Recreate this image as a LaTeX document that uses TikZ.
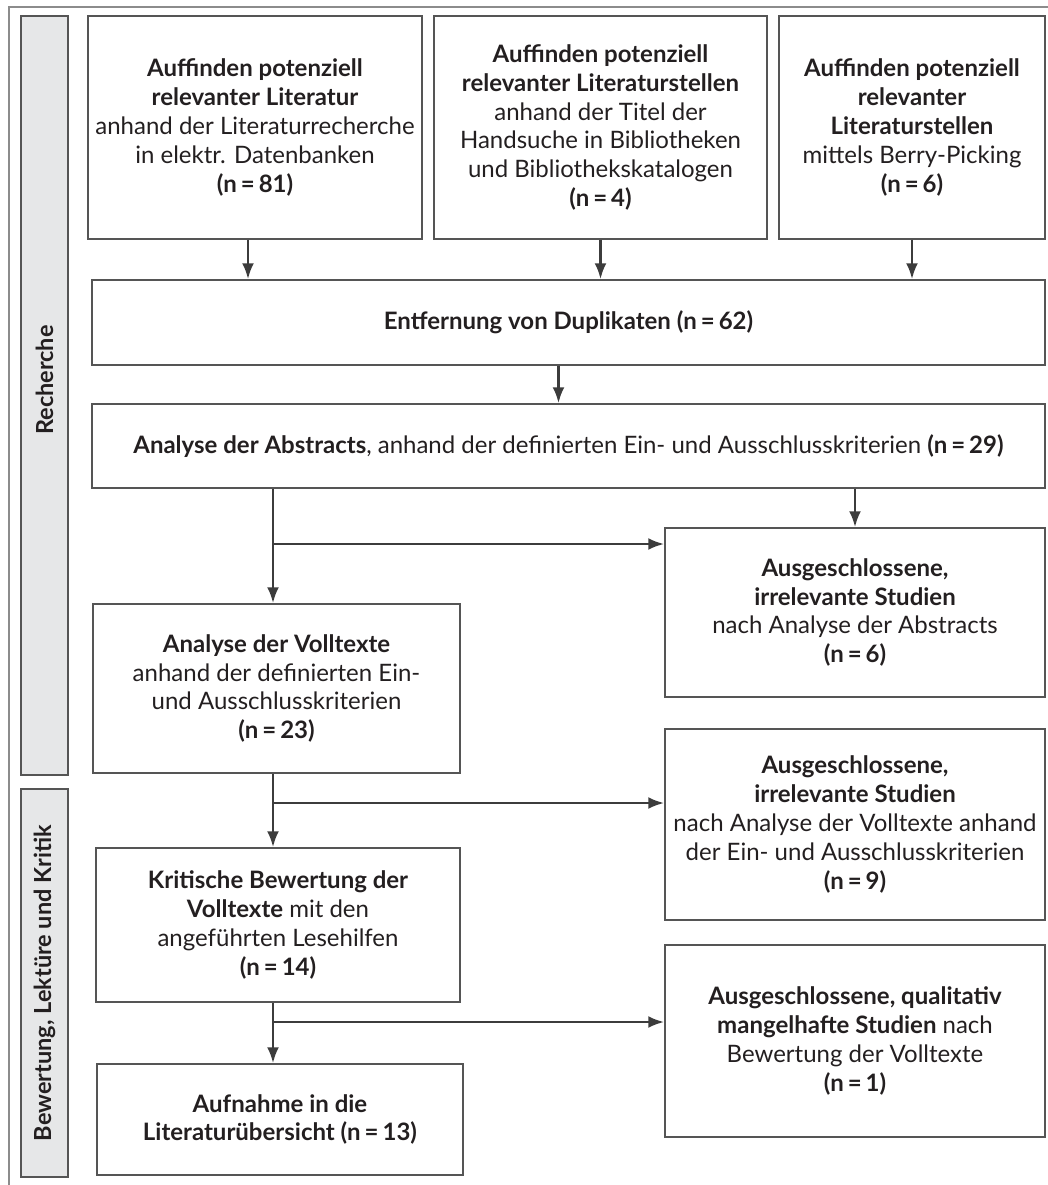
\documentclass[tikz,border=0pt]{standalone}
\usepackage{fontspec}
\setmainfont{Lato}
\usetikzlibrary{arrows.meta}
\definecolor{linegray}{HTML}{555555}
\definecolor{arrowgray}{HTML}{3C3C3C}
\definecolor{framegray}{HTML}{8C8C8C}
\definecolor{sidefill}{HTML}{E6E7E8}
\definecolor{textgray}{HTML}{231F20}
\tikzset{>={Latex[length=16pt,width=12pt]}}
\tikzset{
  stepbox/.style = {draw=linegray, line width=1.4pt, align=center,
    inner sep=0pt, text=textgray},
  size/.style 2 args = {minimum width=#1pt, minimum height=#2pt},
  flow/.style = {->, draw=arrowgray, line width=2.8pt},
  sidebar/.style = {draw=linegray, fill=sidefill, line width=1.4pt, inner sep=0pt},
  sidelabel/.style = {rotate=90, text=textgray, font=\fontsize{23.5}{27}\bfseries},
}
\newcommand{\nval}[1]{\textbf{(n\,=\,#1)}}

\begin{document}
\begin{tikzpicture}[x=1pt,y=-1pt,font=\fontsize{24}{28.8}\selectfont]
  \useasboundingbox (0,0) rectangle (1047,1185);
  \draw[framegray,line width=1.4pt] (9,7) rectangle (1070,1200);

  % phases
  \node[sidebar,size={47}{759}] (rech) at (44.5,395.5) {};
  \node[sidelabel] (rechlab) at (44.5,380) {Recherche};
  \node[sidebar,size={47}{388}] (bewert) at (44.5,983) {};
  \node[sidelabel] (bewertlab) at (bewert.center) {Bewertung, Lektüre und Kritik};

  % search
  \node[stepbox,size={334}{223}] (lit) at (255,127.5)
    {\textbf{Auffinden potenziell}\\ \textbf{relevanter Literatur}\\
     anhand der Literaturrecherche\\ in elektr. Datenbanken\\ \nval{81}};
  \node[stepbox,size={333}{223}] (hand) at (600.5,127.5)
    {\textbf{Auffinden potenziell}\\ \textbf{relevanter Literaturstellen}\\
     anhand der Titel der\\ Handsuche in Bibliotheken\\
     und Bibliothekskatalogen\\ \nval{4}};
  \node[stepbox,size={266}{223}] (berry) at (912,127.5)
    {\textbf{Auffinden potenziell}\\ \textbf{relevanter}\\
     \textbf{Literaturstellen}\\ mittels Berry-Picking\\ \nval{6}};
  \node[stepbox,size={953}{85}] (dup) at (568.5,322.5)
    {\textbf{Entfernung von Duplikaten (n\,=\,62)}};
  \node[stepbox,size={953}{84}] (abs) at (568.5,446)
    {\textbf{Analyse der Abstracts}, anhand der definierten Ein- und
     Ausschlusskriterien \nval{29}};

  % screening
  \node[stepbox,size={380}{169}] (ex1) at (855,612.5)
    {\textbf{Ausgeschlossene,}\\ \textbf{irrelevante Studien}\\
     nach Analyse der Abstracts\\ \nval{6}};
  \node[stepbox,size={367}{169}] (voll) at (276.5,688.5)
    {\textbf{Analyse der Volltexte}\\ anhand der definierten Ein-\\
     und Ausschlusskriterien\\ \nval{23}};
  \node[stepbox,size={380}{191}] (ex2) at (855,824.5)
    {\textbf{Ausgeschlossene,}\\ \textbf{irrelevante Studien}\\
     nach Analyse der Volltexte anhand\\ der Ein- und Ausschlusskriterien\\
     \nval{9}};
  \node[stepbox,size={364}{154}] (krit) at (278,925)
    {\textbf{Kritische Bewertung der}\\ \textbf{Volltexte} mit den\\
     angeführten Lesehilfen\\ \nval{14}};
  \node[stepbox,size={380}{192}] (ex3) at (855,1041)
    {\textbf{Ausgeschlossene, qualitativ}\\ \textbf{mangelhafte Studien} nach\\
     Bewertung der Volltexte\\ \nval{1}};
  \node[stepbox,size={366}{111}] (auf) at (280,1119.5)
    {\textbf{Aufnahme in die}\\ \textbf{Literaturübersicht (n\,=\,13)}};

  \coordinate (j1) at (273,544);
  \coordinate (j2) at (273,803);
  \coordinate (j3) at (273,1022);

  \draw[flow] ([xshift=-7pt]lit.south) -- ([xshift=-7pt]lit.south |- dup.north);
  \draw[flow] (hand.south) -- (hand.south |- dup.north);
  \draw[flow] (berry.south) -- (berry.south |- dup.north);
  \draw[flow] ([xshift=-10pt]dup.south) -- ([xshift=-10pt]dup.south |- abs.north);
  \draw[flow] (abs.south -| ex1.north) -- (ex1.north);
  \draw[flow] (abs.south -| j1) -- (j1 |- voll.north);
  \draw[flow] (j1) -- (j1 -| ex1.west);
  \draw[flow] (voll.south -| j2) -- (j2 |- krit.north);
  \draw[flow] (j2) -- (j2 -| ex2.west);
  \draw[flow] (krit.south -| j3) -- (j3 |- auf.north);
  \draw[flow] (j3) -- (j3 -| ex3.west);
\end{tikzpicture}
\end{document}
